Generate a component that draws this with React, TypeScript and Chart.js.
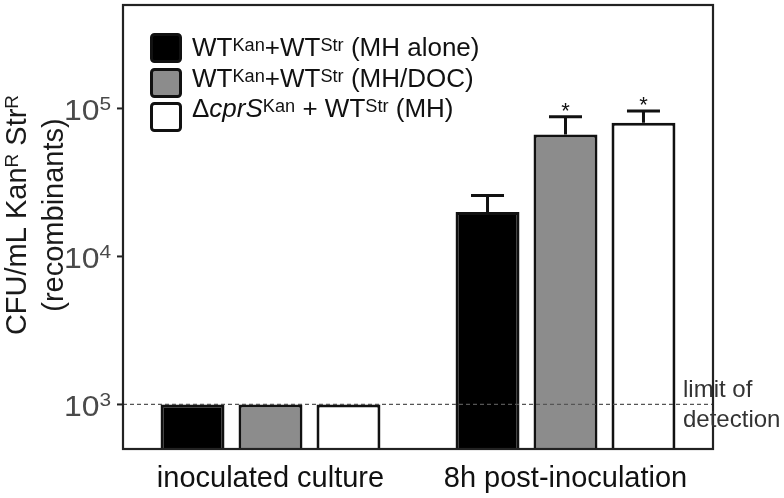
import React, { useEffect, useRef } from "react";
import { Chart, registerables } from "chart.js";

Chart.register(...registerables);

// ---------- data ----------
const categories = ["inoculated culture", "8h post-inoculation"];
const wtMhAlone = [1000, 20000];
const wtMhDoc = [1000, 66700];
const cprSMh = [1000, 80000];
const wtMhAloneUpper = [null, 25800];
const wtMhDocUpper = [null, 88000];
const cprSMhUpper = [null, 96000];
const wtMhAloneSig = ["", ""];
const wtMhDocSig = ["", "*"];
const cprSMhSig = ["", "*"];
const yTickValues = [1000, 10000, 100000];
const yTickBase = "10";
const yTickExponents = ["3", "4", "5"];
const detectionLimit = 1000;
const detectionLabel = ["limit of", "detection"];
const yTitleLine1 = [
  { t: "CFU/mL Kan" },
  { t: "R", sup: true },
  { t: " Str" },
  { t: "R", sup: true },
];
const yTitleLine2 = [{ t: "(recombinants)" }];
const legendItems = [
  [{ t: "WT" }, { t: "Kan", sup: true }, { t: "+WT" }, { t: "Str", sup: true }, { t: " (MH alone)" }],
  [{ t: "WT" }, { t: "Kan", sup: true }, { t: "+WT" }, { t: "Str", sup: true }, { t: " (MH/DOC)" }],
  [
    { t: "Δ" },
    { t: "cprS", italic: true },
    { t: "Kan", sup: true },
    { t: " + WT" },
    { t: "Str", sup: true },
    { t: " (MH)" },
  ],
];

const FONT = "'Liberation Sans', Arial, Helvetica, sans-serif";
const colors = ["#000000", "#8c8c8c", "#ffffff"];
const uppers = [wtMhAloneUpper, wtMhDocUpper, cprSMhUpper];
const sigs = [wtMhAloneSig, wtMhDocSig, cprSMhSig];

type Seg = { t: string; sup?: boolean; italic?: boolean };

function fontStr(size: number, italic?: boolean) {
  return `${italic ? "italic " : ""}${size}px ${FONT}`;
}

function drawRich(
  ctx: CanvasRenderingContext2D,
  segs: Seg[],
  x: number,
  y: number,
  o: { size: number; supSize: number; align: "left" | "center" | "right"; color: string; stretch?: number; rotate?: boolean; supRaise?: number }
) {
  const stretch = o.stretch ?? 1;
  let total = 0;
  const widths = segs.map((s) => {
    ctx.font = fontStr(s.sup ? o.supSize : o.size, s.italic);
    const w = ctx.measureText(s.t).width;
    total += w;
    return w;
  });
  ctx.save();
  ctx.translate(x, y);
  if (o.rotate) ctx.rotate(-Math.PI / 2);
  ctx.scale(stretch, 1);
  let cx = o.align === "left" ? 0 : o.align === "center" ? -total / 2 : -total;
  ctx.fillStyle = o.color;
  ctx.textBaseline = "alphabetic";
  ctx.textAlign = "left";
  segs.forEach((s, i) => {
    ctx.font = fontStr(s.sup ? o.supSize : o.size, s.italic);
    const dy = s.sup ? -0.716 * (o.size - o.supSize) - (o.supRaise ?? 0) : 0;
    ctx.fillText(s.t, cx, dy);
    cx += widths[i];
  });
  ctx.restore();
}

const decorPlugin = {
  id: "decor",
  afterDatasetsDraw(chart: any) {
    const ctx: CanvasRenderingContext2D = chart.ctx;
    const area = chart.chartArea;
    const y = chart.scales.y;

    // error bars and significance marks
    chart.data.datasets.forEach((ds: any, di: number) => {
      const meta = chart.getDatasetMeta(di);
      meta.data.forEach((bar: any, j: number) => {
        const up = uppers[di][j];
        if (up != null) {
          const top = y.getPixelForValue(ds.data[j]);
          const cap = y.getPixelForValue(up);
          ctx.save();
          ctx.strokeStyle = "#111";
          ctx.lineWidth = 3;
          ctx.beginPath();
          ctx.moveTo(bar.x, top);
          ctx.lineTo(bar.x, cap);
          ctx.moveTo(bar.x - 16.5, cap);
          ctx.lineTo(bar.x + 16.5, cap);
          ctx.stroke();
          ctx.restore();
          const s = sigs[di][j];
          if (s) {
            ctx.save();
            ctx.font = fontStr(22);
            ctx.fillStyle = "#111";
            ctx.textAlign = "center";
            ctx.textBaseline = "alphabetic";
            ctx.fillText(s, bar.x, cap + 1);
            ctx.restore();
          }
        }
      });
    });

    // detection limit dashed line
    const yl = y.getPixelForValue(detectionLimit);
    ctx.save();
    ctx.strokeStyle = "#555";
    ctx.lineWidth = 1.3;
    ctx.setLineDash([4, 3]);
    ctx.beginPath();
    ctx.moveTo(area.left, yl);
    ctx.lineTo(area.right, yl);
    ctx.stroke();
    ctx.restore();

    // frame
    ctx.save();
    ctx.strokeStyle = "#222";
    ctx.lineWidth = 2.2;
    ctx.strokeRect(area.left, area.top, area.right - area.left, area.bottom - area.top);
    ctx.restore();

    // y ticks + labels
    yTickValues.forEach((v, i) => {
      const py = y.getPixelForValue(v);
      ctx.save();
      ctx.strokeStyle = "#222";
      ctx.lineWidth = 2;
      ctx.beginPath();
      ctx.moveTo(area.left - 6, py);
      ctx.lineTo(area.left, py);
      ctx.stroke();
      ctx.restore();
      drawRich(ctx, [{ t: yTickBase }, { t: yTickExponents[i], sup: true }], area.left - 12, py + 12, {
        size: 29,
        supSize: 19,
        align: "right",
        color: "#4a4a4a",
        stretch: 1.1,
        supRaise: 3,
      });
    });

    // y-axis title
    const cy = 215;
    drawRich(ctx, yTitleLine1, 26, cy, { size: 29, supSize: 19, align: "center", color: "#1a1a1a", rotate: true, supRaise: 1 });
    drawRich(ctx, yTitleLine2, 63, cy, { size: 29, supSize: 19, align: "center", color: "#1a1a1a", rotate: true });

    // legend
    const boxY = [33, 68, 102];
    const textY = [56, 87, 117];
    legendItems.forEach((segs, i) => {
      const bx = 150, bw = 32, bh = 30;
      ctx.save();
      ctx.beginPath();
      (ctx as any).roundRect(bx + 1.5, boxY[i] + 1.5, bw - 3, bh - 3, 3);
      ctx.fillStyle = colors[i];
      ctx.fill();
      ctx.strokeStyle = "#111";
      ctx.lineWidth = 3;
      ctx.stroke();
      ctx.restore();
      drawRich(ctx, segs, 192, textY[i], { size: 25, supSize: 17.5, align: "left", color: "#111", stretch: 1.04 });
    });

    // detection label
    ctx.save();
    ctx.font = fontStr(24);
    ctx.fillStyle = "#333";
    ctx.textAlign = "left";
    ctx.textBaseline = "alphabetic";
    ctx.fillText(detectionLabel[0], 683, yl - 7);
    ctx.fillText(detectionLabel[1], 683, yl + 23);
    ctx.restore();
  },
};

export default function App() {
  const ref = useRef<HTMLCanvasElement | null>(null);
  useEffect(() => {
    if (!ref.current) return;
    const chart = new Chart(ref.current, {
      type: "bar",
      data: {
        labels: categories,
        datasets: [wtMhAlone, wtMhDoc, cprSMh].map((d, i) => ({
          label: `series${i}`,
          data: d,
          backgroundColor: colors[i],
          borderColor: "#111",
          borderWidth: 3,
          barPercentage: 0.82,
          categoryPercentage: 0.793,
        })),
      },
      options: {
        responsive: false,
        animation: false,
        devicePixelRatio: 1,
        layout: { padding: { left: 123, right: 71, top: 5, bottom: 0 } },
        plugins: { legend: { display: false }, tooltip: { enabled: false } },
        scales: {
          x: {
            grid: { display: false, drawTicks: false },
            border: { display: false },
            ticks: {
              font: { family: FONT, size: 29 },
              color: "#111",
              padding: 13,
              maxRotation: 0,
              autoSkip: false,
            },
            afterFit: (s: any) => {
              s.height = 49;
            },
          },
          y: {
            type: "logarithmic",
            display: false,
            min: 500,
            max: 500000,
          },
        },
      } as any,
      plugins: [decorPlugin],
    });
    return () => chart.destroy();
  }, []);
  return (
    <div style={{ position: "absolute", left: 0, top: 0, width: 784, height: 498, background: "#fff" }}>
      <canvas ref={ref} width={784} height={498} style={{ width: 784, height: 498, display: "block" }} />
    </div>
  );
}
